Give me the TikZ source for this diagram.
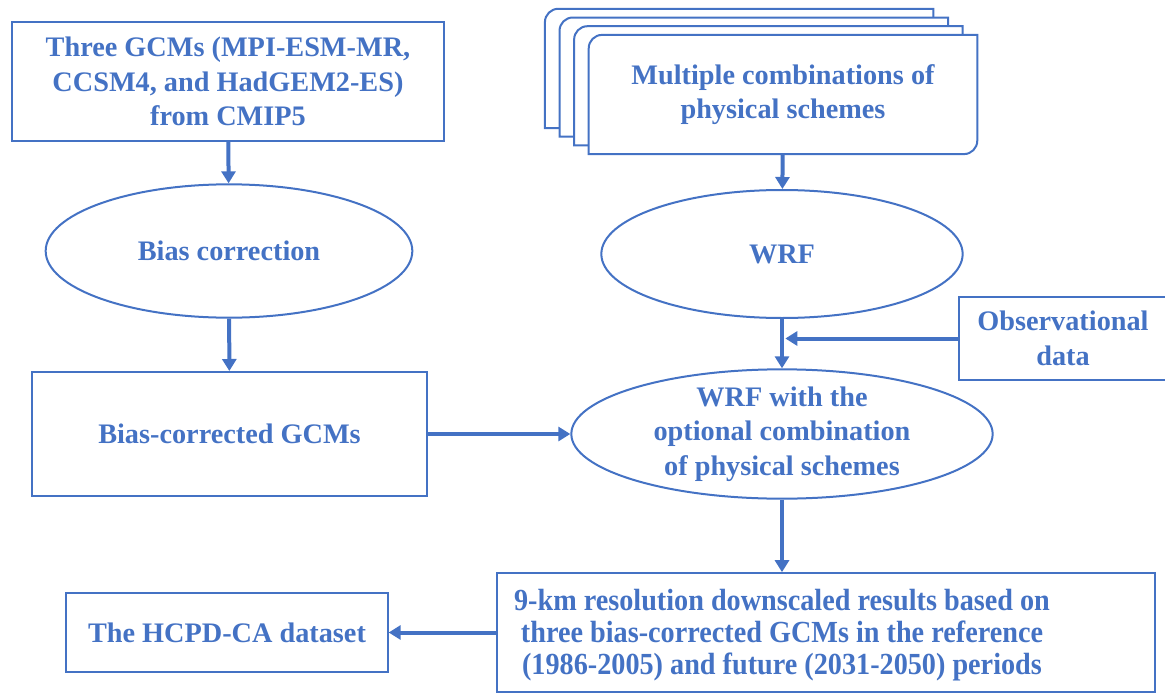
\documentclass[tikz,border=0pt]{standalone}
\usepackage{fontspec}
\setmainfont{Liberation Serif}
\newfontfamily\narrowfont[FakeStretch=0.92]{Liberation Serif}
\definecolor{flowblue}{RGB}{68,114,196}
\usetikzlibrary{positioning, arrows.meta, shapes.geometric, backgrounds, calc}

\begin{document}
\begin{tikzpicture}[
  x=0.75pt, y=-0.75pt,
  font=\fontsize{21.2}{26}\selectfont\bfseries,
  arrow/.style={-{Triangle[length=9pt, width=10.5pt]}, line width=3pt, flowblue},
  box/.style={draw=flowblue, line width=1.5pt, text=flowblue, align=center, inner sep=0pt},
  oval/.style={ellipse, draw=flowblue, line width=1.5pt, text=flowblue, align=center, inner sep=0pt},
  txt/.style={text=flowblue, align=center, inner sep=0pt},
  back/.style={shift={(-14.6*\k,-8.7*\k)}},
]
\useasboundingbox (0,0) rectangle (1165,696);

% --- left column ---
\node[box, minimum width=324pt, minimum height=89pt] (gcm) at (228,81.5)
  {Three GCMs (MPI-ESM-MR,\\CCSM4, and HadGEM2-ES)\\from CMIP5};
\node[oval, minimum width=275pt, minimum height=100pt] (biascorr) at (229,251) {Bias correction};
\node[box, minimum width=296pt, minimum height=93pt] (bcgcm) at (229.5,434) {Bias-corrected GCMs};

% --- right column ---
\node[txt, minimum width=291pt, minimum height=89pt] (schemes) at (783,94.5)
  {Multiple combinations of\\physical schemes};
\begin{scope}[on background layer]
  \foreach \k in {3,2,1,0} {
    \draw[flowblue, line width=1.5pt, fill=white]
      ([back]schemes.west) [rounded corners=10pt] -- ([back]schemes.north west) -- ([back]schemes.north)
      [sharp corners] -- ([back]schemes.north east) -- ([back]schemes.east)
      [rounded corners=10pt] -- ([back]schemes.south east) -- ([back]schemes.south)
      [sharp corners] -- ([back]schemes.south west) -- cycle;
  }
\end{scope}
\node[oval, minimum width=271pt, minimum height=96pt] (wrf) at (782,254) {WRF};
\node[box, minimum width=156pt, minimum height=62pt] (obs) at (1063,338.5) {Observational\\data};
\coordinate (merge) at ([xshift=2.5pt]wrf.south |- obs.west);
\node[oval, minimum width=316pt, minimum height=97pt] (wrf2) at (782,434) {};
\node[txt] (wrf2text) at (wrf2) {WRF with the\\optional combination\\of physical schemes};

% --- bottom row ---
\node[box, minimum width=493pt, minimum height=89pt] (results) at (826,632.5) {};
\node[txt, font=\narrowfont\bfseries\fontsize{23}{24}\selectfont] (resultstext) at (782,635)
  {9-km resolution downscaled results based on\\three bias-corrected GCMs in the reference\\(1986-2005) and future (2031-2050) periods};
\node[box, minimum width=241pt, minimum height=59pt] (hcpd) at (227,632.5) {The HCPD-CA dataset};

% --- arrows ---
\draw[arrow] (gcm) -- (biascorr);
\draw[arrow] (biascorr) -- (bcgcm);
\draw[arrow] (bcgcm) -- (wrf2);
\draw[arrow] (schemes) -- (wrf);
\draw[arrow] (wrf) -- (wrf2);
\draw[arrow] (obs) -- (merge);
\draw[arrow] (wrf2.south) -- (wrf2.south |- results.north);
\draw[arrow] (results) -- (hcpd);

\end{tikzpicture}
\end{document}
